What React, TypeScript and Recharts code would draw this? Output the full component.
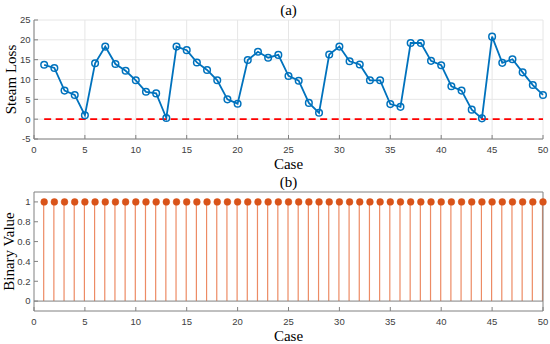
import React from 'react';
import {
  ComposedChart,
  LineChart,
  Line,
  Bar,
  XAxis,
  YAxis,
  CartesianGrid,
  ReferenceLine,
} from 'recharts';

const cases = [
  1, 2, 3, 4, 5, 6, 7, 8, 9, 10, 11, 12, 13, 14, 15, 16, 17, 18, 19, 20, 21, 22, 23, 24, 25,
  26, 27, 28, 29, 30, 31, 32, 33, 34, 35, 36, 37, 38, 39, 40, 41, 42, 43, 44, 45, 46, 47, 48, 49, 50,
];
const steamLoss = [
  13.7, 12.9, 7.2, 6.1, 1.0, 14.1, 18.3, 13.9, 12.2, 9.8, 6.9, 6.5, 0.3, 18.3, 17.4, 14.3, 12.4,
  9.8, 5.0, 3.9, 14.9, 17.0, 15.5, 16.2, 10.9, 9.7, 4.1, 1.6, 16.3, 18.3, 14.6, 13.8, 9.8, 9.8,
  3.8, 3.1, 19.2, 19.2, 14.7, 13.6, 8.3, 7.2, 2.4, 0.2, 20.8, 14.2, 15.1, 11.8, 8.6, 6.1,
];
const binaryValue = [
  1, 1, 1, 1, 1, 1, 1, 1, 1, 1, 1, 1, 1, 1, 1, 1, 1, 1, 1, 1, 1, 1, 1, 1, 1,
  1, 1, 1, 1, 1, 1, 1, 1, 1, 1, 1, 1, 1, 1, 1, 1, 1, 1, 1, 1, 1, 1, 1, 1, 1,
];
const caseTicks = [0, 5, 10, 15, 20, 25, 30, 35, 40, 45, 50];
const steamTicks = [-5, 0, 5, 10, 15, 20, 25];
const binaryTicks = [0, 0.2, 0.4, 0.6, 0.8, 1];

const topData = cases.map((c, i) => ({ case: c, loss: steamLoss[i] }));
const botData = cases.map((c, i) => ({ case: c, bin: binaryValue[i] }));

const tickStyle = { fontSize: 9.5, fill: '#404040', fontFamily: 'Liberation Sans, Arial, sans-serif' };
const titleStyle = { fontSize: 15, fill: '#000', fontFamily: 'Liberation Serif, Times New Roman, serif' };
const axisColor = '#808080';

export default function App() {
  return (
    <div style={{ position: 'absolute', left: 0, top: 0, width: 550, height: 344, background: '#fff' }}>
      <LineChart width={550} height={172} data={topData} margin={{ top: 19, right: 7, bottom: 0, left: 0 }}>
        <CartesianGrid stroke="#e6e6e6" strokeWidth={1} />
        <XAxis
          dataKey="case"
          type="number"
          domain={[0, 50]}
          ticks={caseTicks}
          interval={0}
          height={33}
          tickSize={-4}
          tickMargin={11}
          tick={tickStyle}
          stroke={axisColor}
          label={{ value: 'Case', position: 'insideBottom', offset: 3, style: titleStyle }}
        />
        <XAxis
          xAxisId="top"
          orientation="top"
          dataKey="case"
          type="number"
          domain={[0, 50]}
          height={1}
          axisLine={false}
          tickLine={false}
          tick={false}
          label={{ value: '(a)', position: 'top', offset: 4, style: titleStyle }}
        />
        <YAxis
          type="number"
          domain={[-5, 25]}
          ticks={steamTicks}
          interval={0}
          width={34}
          tickSize={-4}
          tickMargin={7.5}
          tick={tickStyle}
          stroke={axisColor}
          label={{
            value: 'Steam Loss',
            angle: -90,
            position: 'insideLeft',
            offset: 11,
            style: { ...titleStyle, textAnchor: 'middle' },
          }}
        />
        <Line
          dataKey="loss"
          stroke="#0072BD"
          strokeWidth={1.8}
          dot={{ r: 3.3, stroke: '#0072BD', strokeWidth: 1.5, fill: 'none' }}
          isAnimationActive={false}
        />
        <Line
          dataKey="loss"
          xAxisId="top"
          stroke="none"
          dot={false}
          legendType="none"
          isAnimationActive={false}
        />
        <ReferenceLine
          segment={[
            { x: 1, y: 0 },
            { x: 50, y: 0 },
          ]}
          stroke="#ff0000"
          strokeWidth={1.6}
          strokeDasharray="7 4.5"
        />
      </LineChart>
      <ComposedChart width={550} height={172} data={botData} margin={{ top: 19, right: 6, bottom: 0, left: 0 }}>
        <XAxis
          dataKey="case"
          type="number"
          domain={[0, 50]}
          ticks={caseTicks}
          interval={0}
          height={33}
          tickSize={-4}
          tickMargin={11}
          tick={tickStyle}
          stroke={axisColor}
          label={{ value: 'Case', position: 'insideBottom', offset: 3, style: titleStyle }}
        />
        <XAxis
          xAxisId="top"
          orientation="top"
          dataKey="case"
          type="number"
          domain={[0, 50]}
          ticks={caseTicks}
          interval={0}
          height={1}
          tickSize={-4}
          tick={false}
          stroke={axisColor}
          label={{ value: '(b)', position: 'top', offset: 4, style: titleStyle }}
        />
        <YAxis
          yAxisId="left"
          type="number"
          domain={[-0.1, 1.1]}
          ticks={binaryTicks}
          interval={0}
          width={34}
          tickSize={-4}
          tickMargin={7.5}
          tick={tickStyle}
          stroke={axisColor}
          label={{
            value: 'Binary Value',
            angle: -90,
            position: 'insideLeft',
            offset: 9,
            style: { ...titleStyle, textAnchor: 'middle' },
          }}
        />
        <YAxis
          yAxisId="right"
          orientation="right"
          type="number"
          domain={[-0.1, 1.1]}
          ticks={binaryTicks}
          interval={0}
          width={1}
          tickSize={-4}
          tick={false}
          stroke={axisColor}
        />
        <ReferenceLine y={0} yAxisId="left" stroke={axisColor} strokeWidth={1} />
        <Bar dataKey="bin" yAxisId="left" barSize={1.2} fill="#ED8B64" isAnimationActive={false} />
        <Line
          dataKey="bin"
          xAxisId="top"
          yAxisId="right"
          stroke="none"
          dot={{ r: 3.4, fill: '#D95319', stroke: '#D95319', strokeWidth: 0.5 }}
          isAnimationActive={false}
        />
      </ComposedChart>
    </div>
  );
}
